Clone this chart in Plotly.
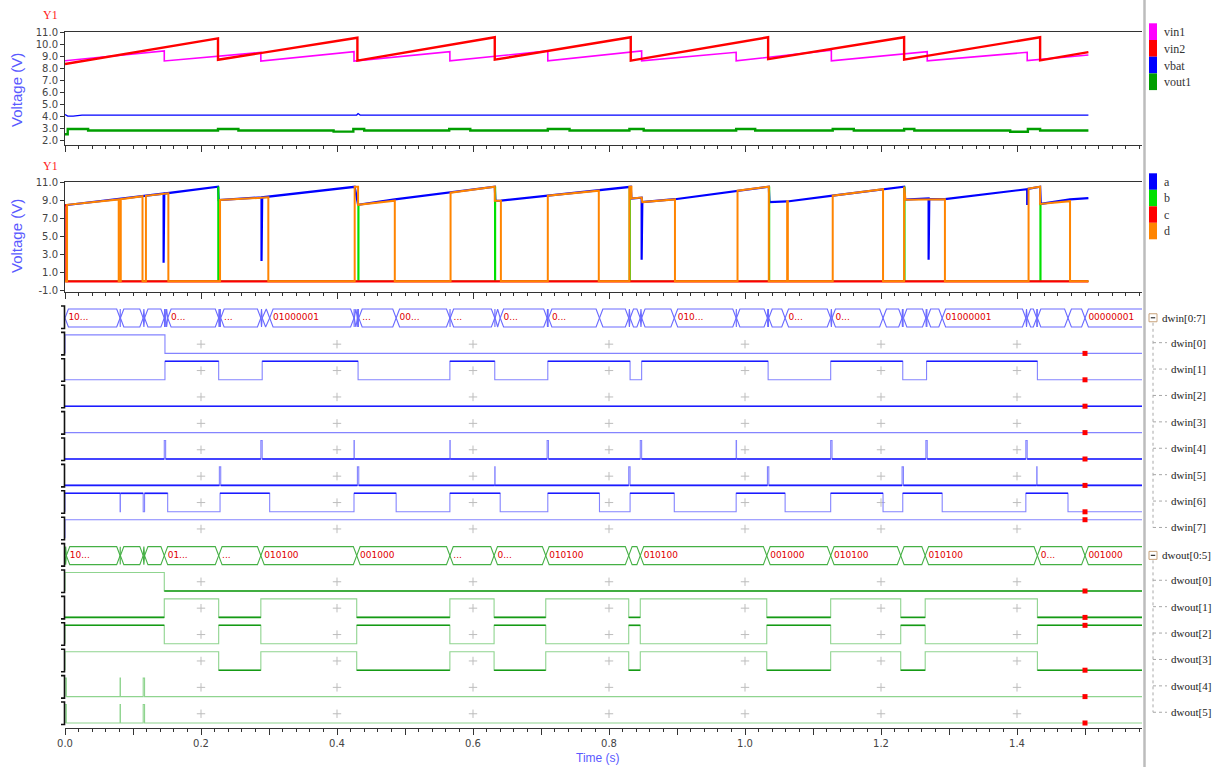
import plotly.graph_objects as go

W, H = 1218, 767

# ============================== DATA ==============================
# --- top panel (Y1): voltages, piecewise linear (t in s, V) ---
vin1_t = [0.000, 0.146, 0.146, 0.288, 0.288, 0.425, 0.425, 0.566, 0.566, 0.710, 0.710,
          0.848, 0.848, 0.987, 0.987, 1.127, 1.127, 1.268, 1.268, 1.415, 1.415, 1.505]
vin1_v = [8.64, 9.45, 8.62, 9.33, 8.62, 9.40, 8.62, 9.39, 8.63, 9.45, 8.63,
          9.45, 8.63, 9.34, 8.63, 9.52, 8.63, 9.39, 8.63, 9.34, 8.65, 9.12]
vin2_t = [0.000, 0.225, 0.225, 0.430, 0.430, 0.632, 0.632, 0.832, 0.832, 1.034, 1.034,
          1.234, 1.234, 1.434, 1.434, 1.505]
vin2_v = [8.37, 10.50, 8.72, 10.55, 8.65, 10.59, 8.73, 10.59, 8.65, 10.59, 8.78,
          10.59, 8.73, 10.59, 8.67, 9.36]
vbat_t = [0.000, 0.004, 0.012, 0.025, 0.429, 0.431, 0.434, 1.505]
vbat_v = [4.18, 4.05, 4.05, 4.14, 4.14, 4.26, 4.14, 4.14]
vout1_t = [0.000, 0.004, 0.034, 0.225, 0.255, 0.395, 0.424, 0.440, 0.565, 0.596, 0.710, 0.742,
           0.830, 0.851, 0.987, 1.015, 1.129, 1.160, 1.234, 1.249, 1.390, 1.416, 1.434, 1.505]
vout1_v = [2.55, 2.98, 2.86, 2.98, 2.86, 2.76, 2.98, 2.86, 2.98, 2.86, 2.98, 2.86,
           2.98, 2.86, 2.98, 2.86, 2.98, 2.86, 2.98, 2.86, 2.75, 2.98, 2.86, 2.86]

# --- middle panel (Y1): a, b, c, d ---
a_t = [0.000, 0.145, 0.145, 0.146, 0.225, 0.226, 0.289, 0.289, 0.290, 0.426, 0.431, 0.485,
       0.567, 0.632, 0.633, 0.641, 0.710, 0.785, 0.832, 0.833, 0.848, 0.848, 0.849, 0.897,
       0.989, 1.035, 1.036, 1.062, 1.129, 1.203, 1.234, 1.235, 1.270, 1.270, 1.271, 1.294,
       1.415, 1.415, 1.416, 1.434, 1.435, 1.478, 1.505]
a_v = [8.45, 9.75, 2.07, 9.75, 10.51, 9.03, 9.33, 2.26, 9.33, 10.50, 8.50, 9.10,
       9.85, 10.51, 8.95, 8.96, 9.51, 10.07, 10.50, 9.20, 9.30, 2.40, 8.80, 9.12,
       10.07, 10.51, 8.80, 8.87, 9.51, 10.23, 10.51, 9.07, 9.20, 2.40, 9.15, 9.14,
       10.24, 8.48, 10.26, 10.51, 8.60, 9.10, 9.25]
b_t = [0.000, 0.225, 0.225, 0.226, 0.226, 0.431, 0.431, 0.432, 0.432, 0.632, 0.632, 0.633, 0.633,
       0.830, 0.830, 0.831, 0.831, 1.035, 1.035, 1.036, 1.036, 1.234, 1.234, 1.235, 1.235,
       1.434, 1.434, 1.435, 1.435, 1.505]
b_v = [0, 0, 10.45, 10.45, 0, 0, 8.50, 8.50, 0, 0, 10.45, 10.45, 0,
       0, 10.45, 10.45, 0, 0, 10.45, 10.45, 0, 0, 10.45, 10.45, 0,
       0, 8.60, 8.60, 0, 0]
c_t = [0.000, 0.002, 0.002, 1.505]
c_v = [8.45, 8.45, 0.0, 0.0]
d_t = [0.000, 0.003, 0.003, 0.079, 0.079, 0.082, 0.082, 0.114, 0.114, 0.119, 0.119, 0.152, 0.152,
       0.228, 0.228, 0.299, 0.299, 0.426, 0.426, 0.431, 0.431, 0.485, 0.485,
       0.567, 0.567, 0.632, 0.632, 0.641, 0.641, 0.710, 0.710, 0.785, 0.785,
       0.830, 0.830, 0.833, 0.833, 0.848, 0.849, 0.897, 0.897, 0.989, 0.989, 1.035, 1.035,
       1.062, 1.062, 1.063, 1.063, 1.129, 1.129, 1.203, 1.203, 1.234, 1.234, 1.236, 1.294, 1.294,
       1.417, 1.417, 1.434, 1.434, 1.478, 1.478, 1.505]
d_v = [0, 0, 8.50, 9.10, 0, 0, 9.12, 9.45, 0, 0, 9.50, 9.78, 0,
       0, 9.03, 9.33, 0, 0, 10.50, 10.50, 8.50, 8.96, 0,
       0, 9.85, 10.51, 8.95, 8.96, 0, 0, 9.51, 10.07, 0,
       0, 10.50, 10.50, 9.20, 9.30, 8.80, 9.10, 0, 0, 10.07, 10.51, 0,
       0, 8.90, 8.90, 0, 0, 9.51, 10.23, 0, 0, 10.51, 9.07, 9.12, 0,
       0, 10.30, 10.51, 8.60, 8.90, 0, 0]

# --- digital buses: initial value and toggle times (s) of each bit ---
dwin_names = ["dwin[0]", "dwin[1]", "dwin[2]", "dwin[3]", "dwin[4]", "dwin[5]", "dwin[6]", "dwin[7]"]
dwin_init = [1, 0, 0, 0, 0, 0, 1, 1]
dwin0_tog = [0.147]
dwin1_tog = [0.147, 0.226, 0.290, 0.431, 0.566, 0.632, 0.710, 0.831, 0.848, 1.034, 1.126,
             1.232, 1.267, 1.430]
dwin2_tog = []
dwin3_tog = []
dwin4_tog = [0.146, 0.148, 0.288, 0.290, 0.425, 0.4255, 0.566, 0.5665, 0.709, 0.711,
             0.846, 0.848, 0.987, 0.9875, 1.126, 1.128, 1.266, 1.268, 1.413, 1.415]
dwin5_tog = [0.227, 0.229, 0.430, 0.432, 0.632, 0.6325, 0.829, 0.831, 1.033, 1.035,
             1.231, 1.233, 1.429, 1.4295]
dwin6_tog = [0.081, 0.0815, 0.115, 0.117, 0.151, 0.228, 0.301, 0.425, 0.487, 0.566, 0.640,
             0.710, 0.786, 0.831, 0.896, 0.987, 1.059, 1.126, 1.203, 1.232, 1.290, 1.413, 1.475]
dwin7_tog = []
dwin_tog = [dwin0_tog, dwin1_tog, dwin2_tog, dwin3_tog, dwin4_tog, dwin5_tog, dwin6_tog, dwin7_tog]

dwout_names = ["dwout[0]", "dwout[1]", "dwout[2]", "dwout[3]", "dwout[4]", "dwout[5]"]
dwout_init = [1, 0, 1, 1, 1, 1]
dwout0_tog = [0.146]
dwout1_tog = [0.146, 0.226, 0.288, 0.429, 0.566, 0.631, 0.707, 0.829, 0.846, 1.032, 1.126,
              1.229, 1.265, 1.430]
dwout2_tog = [0.146, 0.226, 0.288, 0.429, 0.566, 0.631, 0.707, 0.829, 0.846, 1.032, 1.126,
              1.229, 1.265, 1.430]
dwout3_tog = [0.226, 0.288, 0.429, 0.566, 0.631, 0.707, 0.829, 0.846, 1.032, 1.126,
              1.229, 1.265, 1.430]
dwout4_tog = [0.002, 0.081, 0.0815, 0.115, 0.117]
dwout5_tog = [0.002, 0.081, 0.0815, 0.115, 0.117]
dwout_tog = [dwout0_tog, dwout1_tog, dwout2_tog, dwout3_tog, dwout4_tog, dwout5_tog]

cursor_time = 1.5
grid_times = [0.2, 0.4, 0.6, 0.8, 1.0, 1.2, 1.4]
x_tick_vals = [0.0, 0.1, 0.2, 0.3, 0.4, 0.5, 0.6, 0.7, 0.8, 0.9, 1.0, 1.1, 1.2, 1.3, 1.4, 1.5]
x_tick_text = ["0.0", "", "0.2", "", "0.4", "", "0.6", "", "0.8", "", "1.0", "", "1.2", "", "1.4", ""]
y1_ticks = [2, 3, 4, 5, 6, 7, 8, 9, 10, 11]
y2_ticks = [-1, 1, 3, 5, 7, 9, 11]
top_legend = ["vin1", "vin2", "vbat", "vout1"]
mid_legend = ["a", "b", "c", "d"]

for xs, ys in [(vin1_t, vin1_v), (vin2_t, vin2_v), (vbat_t, vbat_v), (vout1_t, vout1_v),
               (a_t, a_v), (b_t, b_v), (c_t, c_v), (d_t, d_v)]:
    assert len(xs) == len(ys), (len(xs), len(ys))

# ============================== GEOMETRY (pixels) ==============================
PX_T0, PX_PER_S, PX_RIGHT = 65.0, 680.0, 1142.0
T_MAX = (PX_RIGHT - PX_T0) / PX_PER_S
P1_TOP, P1_BOT = 32.3, 145.0
P2_TOP, P2_BOT = 182.3, 291.7
P3_TOP, P3_BOT = 300.0, 728.0
Y1_MAX, Y1_PX_PER_V = 11.0, 12.06
Y2_MAX, Y2_PX_PER_V = 11.0, 9.0
ROW0_LOW, ROW_PITCH = 327.0, 26.4
HIGH, BUS_H, BUS_DX = 0.70, 0.68, 0.005


def fx(x):
    return x / W


def fy(y):
    return 1 - y / H


def row_low_px(i):
    return ROW0_LOW + i * ROW_PITCH


BLUE_L, BLUE_D = "#8484ff", "#1a1aff"
GREEN_L, GREEN_D = "#8fd48f", "#159a15"
dwin_dark = ["none", "high", "both", "none", "low", "low", "high", "none"]
dwout_dark = ["low", "low", "high", "low", "none", "none"]

fig = go.Figure()


def add_line(x, y, color, width, xa, ya, shape="linear"):
    fig.add_trace(go.Scatter(x=x, y=y, mode="lines", xaxis=xa, yaxis=ya,
                             line=dict(color=color, width=width, shape=shape),
                             showlegend=False, hoverinfo="skip"))


# ---- top panel
add_line(vin1_t, vin1_v, "#ff00ff", 1.6, "x", "y")
add_line(vin2_t, vin2_v, "#ff0000", 2.4, "x", "y")
add_line(vbat_t, vbat_v, "#0000ff", 1.3, "x", "y")
add_line(vout1_t, vout1_v, "#009e00", 2.4, "x", "y", shape="hv")

# ---- middle panel
add_line(a_t, a_v, "#0000ff", 2.2, "x2", "y2")
add_line(b_t, b_v, "#00e000", 1.5, "x2", "y2")
add_line(c_t, c_v, "#ff0000", 2.2, "x2", "y2")
add_line(d_t, d_v, "#ff8400", 2.0, "x2", "y2")


# ---- digital panel helpers
def value_at(init, tog, t):
    return (init + sum(1 for s in tog if s <= t)) % 2


def step_xy(init, tog, low, t_end):
    xs, ys = [0.0, 0.0], [low, low + HIGH * init]
    v = init
    for t in tog:
        v = 1 - v
        xs.append(t)
        ys.append(low + HIGH * v)
    xs.append(t_end)
    ys.append(low + HIGH * v)
    return xs, ys


def dark_xy(init, tog, low, style, t_end):
    bounds = [0.0] + list(tog) + [t_end]
    xs, ys = [], []
    v = init
    for k in range(len(bounds) - 1):
        if style == "both" or (style == "high" and v == 1) or (style == "low" and v == 0):
            xs += [bounds[k], bounds[k + 1], None]
            ys += [low + HIGH * v, low + HIGH * v, None]
        v = 1 - v
    return xs, ys


def bus_label(s, w_px, last):
    if last or w_px >= len(s) * 5.6 + 22:
        return s
    if w_px < 34:
        return ""
    n = max(0, int((w_px - 38) / 7))
    return s[:n] + "..."


def draw_bus(row, inits, togs, color, width):
    low = -row
    top, mid = low + BUS_H, low + BUS_H / 2
    bset = sorted(set(round(t, 4) for tl in togs for t in tl) | {cursor_time})
    bounds = [0.0] + [b for b in bset if b > 0]
    hx, hy = [], []
    tx, ty, tt = [], [], []
    for k in range(len(bounds)):
        a = bounds[k]
        last = k == len(bounds) - 1
        b = T_MAX + 0.1 if last else bounds[k + 1]
        d = min(BUS_DX, (b - a) / 2)
        hx += [a, a + d, b - d, b, b - d, a + d, a, None]
        hy += [mid, top, top, mid, low, low, mid, None]
        m = (a + b) / 2
        s = "".join(str(value_at(i0, tl, m)) for i0, tl in zip(inits, togs))
        lab = bus_label(s, (b - a) * PX_PER_S, last)
        if lab:
            tx.append(a + d)
            ty.append(mid)
            tt.append(lab)
    add_line(hx, hy, color, width, "x3", "y3")
    fig.add_trace(go.Scatter(x=tx, y=ty, text=tt, mode="text", textposition="middle right",
                             textfont=dict(family="DejaVu Sans", size=9, color="#e00000"),
                             xaxis="x3", yaxis="y3", showlegend=False, hoverinfo="skip"))


bit_rows = [(1 + k, dwin_init[k], dwin_tog[k], dwin_dark[k], BLUE_L, BLUE_D) for k in range(8)] + \
           [(10 + k, dwout_init[k], dwout_tog[k], dwout_dark[k], GREEN_L, GREEN_D) for k in range(6)]

# grid "+" marks
gx, gy = [], []
for row, *_ in bit_rows:
    for t in grid_times:
        gx.append(t)
        gy.append(-row + HIGH / 2)
fig.add_trace(go.Scatter(x=gx, y=gy, mode="markers", xaxis="x3", yaxis="y3",
                         marker=dict(symbol="cross-thin", size=6, line=dict(color="#bdbdbd", width=1)),
                         showlegend=False, hoverinfo="skip"))

# bit signals
sq_x, sq_y = [], []
for row, init, tog, style, cl, cd in bit_rows:
    low = -row
    xs, ys = step_xy(init, tog, low, T_MAX + 0.05)
    add_line(xs, ys, cl, 1.1, "x3", "y3", shape="hv")
    dx_, dy_ = dark_xy(init, tog, low, style, T_MAX + 0.05)
    if dx_:
        add_line(dx_, dy_, cd, 1.6, "x3", "y3")
    sq_x.append(cursor_time)
    sq_y.append(low + HIGH * value_at(init, tog, cursor_time))

draw_bus(0, dwin_init, dwin_tog, "#6a6aff", 1.1)
draw_bus(9, dwout_init, dwout_tog, "#45b045", 1.1)

fig.add_trace(go.Scatter(x=sq_x, y=sq_y, mode="markers", xaxis="x3", yaxis="y3",
                         marker=dict(symbol="square", size=5, color="#ff0000"),
                         showlegend=False, hoverinfo="skip", cliponaxis=False))

# ============================== LAYOUT ==============================
tick_font = dict(family="DejaVu Sans", size=10, color="#444")


def xaxis(anchor, labels, mirror):
    return dict(domain=[fx(PX_T0), fx(PX_RIGHT)], range=[0, T_MAX], anchor=anchor,
                automargin=False,
                showgrid=False, zeroline=False, showline=True, linecolor="#333", linewidth=1,
                mirror=mirror, ticks="outside", ticklen=6, tickcolor="#333", tickwidth=1,
                tickmode="array", tickvals=x_tick_vals, ticktext=x_tick_text,
                showticklabels=labels, tickfont=tick_font,
                minor=dict(tickmode="linear", tick0=0, dtick=0.02, ticks="outside", ticklen=3,
                           tickcolor="#333", showgrid=False))


y1_min = Y1_MAX - (P1_BOT - P1_TOP) / Y1_PX_PER_V
y2_min = Y2_MAX - (P2_BOT - P2_TOP) / Y2_PX_PER_V
y3_min = -(P3_BOT - ROW0_LOW) / ROW_PITCH
y3_max = (ROW0_LOW - P3_TOP) / ROW_PITCH


def yaxis(anchor, dom, rng, ticks):
    return dict(domain=dom, range=rng, anchor=anchor, automargin=False,
                showgrid=False, zeroline=False,
                showline=True, linecolor="#333", linewidth=1, ticks="outside", ticklen=4,
                tickcolor="#333", tickmode="array", tickvals=ticks,
                ticktext=["%.1f" % v for v in ticks], tickfont=tick_font)


ann = []


def text(x, y, s, size, color, family, xanchor="left", angle=0):
    ann.append(dict(x=fx(x), y=fy(y), xref="paper", yref="paper", text=s, showarrow=False,
                    xanchor=xanchor, yanchor="middle", textangle=angle,
                    font=dict(size=size, color=color, family=family)))


shapes = []


def pline(x0, y0, x1, y1, color, width, dash="solid"):
    shapes.append(dict(type="line", xref="paper", yref="paper", x0=fx(x0), y0=fy(y0),
                       x1=fx(x1), y1=fy(y1), line=dict(color=color, width=width, dash=dash)))


def prect(x0, y0, x1, y1, fill, line="rgba(0,0,0,0)", lw=0):
    shapes.append(dict(type="rect", xref="paper", yref="paper", x0=fx(x0), y0=fy(y0),
                       x1=fx(x1), y1=fy(y1), fillcolor=fill, line=dict(color=line, width=lw)))


# axis captions
text(50, 15, "Y1", 12, "#ff2020", "Liberation Serif", "center")
text(50, 166, "Y1", 12, "#ff2020", "Liberation Serif", "center")
text(16, 90, "Voltage (V)", 15, "#5a5aff", "Liberation Sans", "center", -90)
text(16, 236, "Voltage (V)", 15, "#5a5aff", "Liberation Sans", "center", -90)
text(598, 758, "Time (s)", 12, "#5a5aff", "Liberation Sans", "center")

# right-side separator
pline(1144.5, 0, 1144.5, H, "#bcbcbc", 2.5)

# analog legends
top_cols = ["#ff00ff", "#ff0000", "#0000ff", "#009e00"]
for k, (name, col) in enumerate(zip(top_legend, top_cols)):
    y0 = 23.3 + k * 16.7
    prect(1149, y0, 1157, y0 + 16.7, col)
    text(1162, y0 + 9, name, 12, "#333", "Liberation Serif")
mid_cols = ["#0000ff", "#00e000", "#ff0000", "#ff8400"]
for k, (name, col) in enumerate(zip(mid_legend, mid_cols)):
    y0 = 173.3 + k * 16.5
    prect(1149, y0, 1157, y0 + 16.5, col)
    text(1162, y0 + 8.5, name, 12, "#333", "Liberation Serif")


# digital tree legend
def tree(bus_row, header, names, first_row):
    hy = row_low_px(bus_row) - ROW_PITCH * 0.35
    prect(1149, hy - 4, 1157, hy + 4, "white", "#c8a27a", 1)
    pline(1150.8, hy, 1155.2, hy, "#333", 1.2)
    text(1160, hy, header, 11, "#222", "Liberation Serif")
    cys = [row_low_px(first_row + k) - ROW_PITCH * 0.35 - 1.5 for k in range(len(names))]
    pline(1153, hy + 5, 1153, cys[-1], "#a8a8a8", 1, "dot")
    for cy, nm in zip(cys, names):
        pline(1153, cy, 1167, cy, "#a8a8a8", 1, "dot")
        text(1169, cy, nm, 11, "#222", "Liberation Serif")


tree(0, "dwin[0:7]", dwin_names, 1)
tree(9, "dwout[0:5]", dwout_names, 10)

# row brackets at the left edge of the digital panel
for i in range(16):
    lo = row_low_px(i)
    top_px, bot_px = lo - 21, lo + 1.5
    shapes.append(dict(type="path", xref="paper", yref="paper",
                       path="M %f,%f L %f,%f L %f,%f L %f,%f" % (
                           fx(61), fy(top_px), fx(64.5), fy(top_px),
                           fx(64.5), fy(bot_px), fx(61), fy(bot_px)),
                       line=dict(color="#111", width=1.6)))

fig.update_layout(
    width=W, height=H, autosize=False,
    margin=dict(l=0, r=0, t=0, b=0, pad=0, autoexpand=False),
    paper_bgcolor="white", plot_bgcolor="white", hovermode=False, showlegend=False,
    xaxis=xaxis("y", False, True),
    yaxis=yaxis("x", [fy(P1_BOT), fy(P1_TOP)], [y1_min, Y1_MAX], y1_ticks),
    xaxis2=xaxis("y2", False, True),
    yaxis2=yaxis("x2", [fy(P2_BOT), fy(P2_TOP)], [y2_min, Y2_MAX], y2_ticks),
    xaxis3=xaxis("y3", True, False),
    yaxis3=dict(domain=[fy(P3_BOT), fy(P3_TOP)], range=[y3_min, y3_max], anchor="x3",
                visible=False, showgrid=False, zeroline=False, automargin=False),
    annotations=ann, shapes=shapes,
)

page_fix = ("document.documentElement.style.margin='0';document.documentElement.style.padding='0';"
            "document.body.style.margin='0';document.body.style.padding='0';"
            "document.body.style.overflow='hidden';")
fig.write_html("out.html", config={"displayModeBar": False}, post_script=page_fix)
